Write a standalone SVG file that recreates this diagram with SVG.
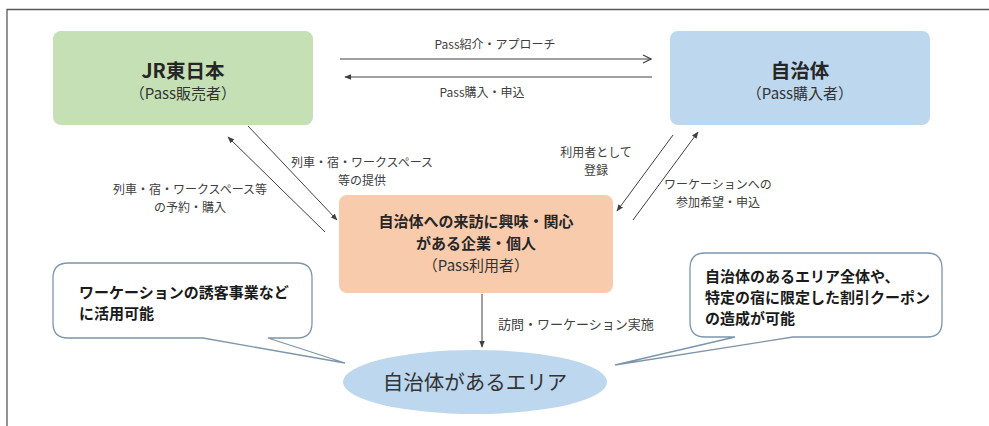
<svg xmlns="http://www.w3.org/2000/svg" width="989" height="426" viewBox="0 0 989 426">
<style>
text{font-family:"Noto Sans CJK JP","Noto Sans",sans-serif;fill:#262626}
.lbl{font-size:12px;fill:#404040;text-anchor:middle}
.ttl{font-size:19.5px;font-weight:bold;text-anchor:middle}
.sub{font-size:15px;text-anchor:middle;fill:#333}
.call{font-size:15px;font-weight:bold;fill:#1a1a1a}
.ln{stroke:#404040;stroke-width:1;fill:none}
.bub{fill:#fff;stroke:#7d95ab;stroke-width:1.3}
</style>
<defs>
<marker id="ah" viewBox="0 0 10 10" refX="9" refY="5" markerWidth="7" markerHeight="7" orient="auto" markerUnits="userSpaceOnUse">
<path d="M0,1 L10,5 L0,9 Z" fill="#404040"/>
</marker>
<marker id="ao" viewBox="0 0 10 10" refX="9" refY="5" markerWidth="10" markerHeight="10" orient="auto" markerUnits="userSpaceOnUse">
<path d="M1,1 L9,5 L1,9" fill="none" stroke="#404040" stroke-width="1.2"/>
</marker>
</defs>
<rect width="989" height="426" fill="#fff"/>
<path d="M7,426 V9.5 H989" fill="none" stroke="#595959" stroke-width="1.3"/>

<g id="connectors">
<line class="ln" x1="340" y1="59" x2="651" y2="59" marker-end="url(#ao)"/>
<line class="ln" x1="652" y1="77" x2="345" y2="77" marker-end="url(#ah)" stroke="#7f7f7f"/>
<line class="ln" x1="325" y1="232" x2="228" y2="137" marker-end="url(#ah)"/>
<line class="ln" x1="248" y1="126" x2="337" y2="220" marker-end="url(#ah)"/>
<line class="ln" x1="673" y1="135" x2="617" y2="211" marker-end="url(#ah)"/>
<line class="ln" x1="633" y1="220" x2="698" y2="132" marker-end="url(#ah)"/>
<line class="ln" x1="482" y1="294" x2="482" y2="347" marker-end="url(#ah)"/>
<text class="lbl" x="495" y="49">Pass紹介・アプローチ</text>
<text class="lbl" x="482" y="97">Pass購入・申込</text>
<text class="lbl" x="362" y="167">列車・宿・ワークスペース</text>
<text class="lbl" x="362" y="185">等の提供</text>
<text class="lbl" x="190" y="194">列車・宿・ワークスペース等</text>
<text class="lbl" x="190" y="212">の予約・購入</text>
<text class="lbl" x="596" y="157">利用者として</text>
<text class="lbl" x="596" y="175">登録</text>
<text class="lbl" x="718" y="189">ワーケーションへの</text>
<text class="lbl" x="718" y="207">参加希望・申込</text>
<text class="lbl" x="498" y="329" style="text-anchor:start;font-size:13px">訪問・ワーケーション実施</text>
</g>

<g id="jr">
<rect x="53" y="31" width="260" height="94" rx="8" fill="#c5e0b4"/>
<text class="ttl" x="183" y="78">JR東日本</text>
<text class="sub" x="183" y="99">（Pass販売者）</text>
</g>

<g id="jichitai">
<rect x="670" y="31" width="260" height="94" rx="8" fill="#bdd7ee"/>
<text class="ttl" x="800" y="78">自治体</text>
<text class="sub" x="800" y="99">（Pass購入者）</text>
</g>

<g id="user">
<rect x="339" y="195" width="274" height="98" rx="8" fill="#f8cbad"/>
<text x="476" y="227" style="font-size:15px;font-weight:bold;text-anchor:middle">自治体への来訪に興味・関心</text>
<text x="476" y="249" style="font-size:15px;font-weight:bold;text-anchor:middle">がある企業・個人</text>
<text x="476" y="271" style="font-size:15px;text-anchor:middle;fill:#333">（Pass利用者）</text>
</g>

<g id="area">
<ellipse cx="475" cy="382" rx="132" ry="32" fill="#bdd7ee"/>
<text x="475" y="390" style="font-size:20.5px;text-anchor:middle;fill:#333">自治体があるエリア</text>
</g>

<g id="callout-left">
<path class="bub" d="M68,263 H297 Q312,263 312,278 V323 Q312,338 297,338 H268 L345,363 L203,338 H68 Q53,338 53,323 V278 Q53,263 68,263 Z"/>
<text class="call" x="79" y="298">ワーケーションの誘客事業など</text>
<text class="call" x="79" y="319">に活用可能</text>
</g>

<g id="callout-right">
<path class="bub" d="M705,253 H927 Q942,253 942,268 V322 Q942,337 927,337 H793 L615,365 L735,337 H705 Q690,337 690,322 V268 Q690,253 705,253 Z"/>
<text class="call" x="705" y="282">自治体のあるエリア全体や、</text>
<text class="call" x="705" y="303">特定の宿に限定した割引クーポン</text>
<text class="call" x="705" y="324">の造成が可能</text>
</g>
</svg>
